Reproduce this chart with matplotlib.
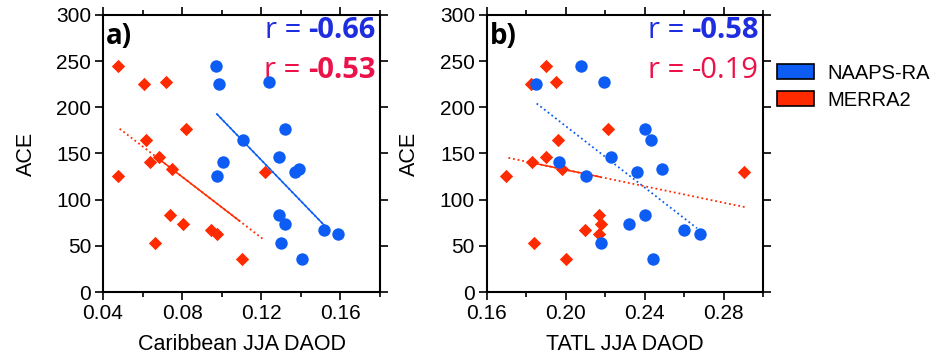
#!/usr/bin/env python3
"""ACE vs JJA dust AOD scatter, two panels"""

import matplotlib.pyplot as plt
import numpy as np
from matplotlib.patches import Patch
from matplotlib.ticker import MultipleLocator

# ACE values per season (shared by both products)
ace = [245, 225, 227, 176, 165, 146, 141, 133, 130, 126, 83, 74, 67, 63, 53, 36]

# Caribbean JJA DAOD
carib_naaps = [0.097, 0.0988, 0.1238, 0.1319, 0.1108, 0.1289, 0.1008, 0.1392,
               0.137, 0.0978, 0.1289, 0.1318, 0.1519, 0.159, 0.1299, 0.1407]
carib_merra = [0.0476, 0.0606, 0.0718, 0.0819, 0.0616, 0.0681, 0.0637, 0.0748,
               0.122, 0.0476, 0.0736, 0.0804, 0.0944, 0.0978, 0.0665, 0.110]

# TATL JJA DAOD
tatl_naaps = [0.2078, 0.1848, 0.2192, 0.240, 0.243, 0.2229, 0.1968, 0.249,
              0.236, 0.2102, 0.240, 0.232, 0.260, 0.268, 0.2178, 0.2442]
tatl_merra = [0.190, 0.1823, 0.195, 0.2212, 0.1962, 0.1899, 0.183, 0.198,
              0.2901, 0.1698, 0.217, 0.2178, 0.210, 0.2168, 0.1838, 0.200]

r_text = {"a": ("-0.66", "-0.53"), "b": ("-0.58", "-0.19")}
r_bold = {"a": (True, True), "b": (True, False)}

# extent of the fit lines: (full dotted range, solid range)
fit_span = {
    "a_naaps": ((0.0975, 0.152), (0.0975, 0.152)),
    "a_merra": ((0.0484, 0.121), (0.067, 0.109)),
    "b_naaps": ((0.1853, 0.2665), None),
    "b_merra": ((0.171, 0.291), (0.183, 0.2175)),
}

BLUE = "#0d5df5"
RED = "#ff2a00"
TXT_BLUE = "#1f2de0"
TXT_RED = "#eb1149"


def fit_line(ax, x, y, span, color):
    k, b = np.polyfit(x, y, 1)
    full, solid = span
    xs = np.linspace(full[0], full[1], 50)
    ax.plot(xs, k * xs + b, ls=(0, (1, 1.6)), lw=1.3, color=color, zorder=2)
    if solid is not None:
        xs = np.linspace(solid[0], solid[1], 50)
        ax.plot(xs, k * xs + b, ls="-", lw=1.1, color=color, zorder=2)


def panel(ax, key, xn, xm, xlim, xticks, xlabel):
    ax.scatter(xm, ace, marker="D", s=46, color=RED, zorder=3, lw=0)
    ax.scatter(xn, ace, marker="o", s=80, color=BLUE, zorder=4, lw=0)
    fit_line(ax, xn, ace, fit_span[key + "_naaps"], BLUE)
    fit_line(ax, xm, ace, fit_span[key + "_merra"], RED)

    ax.set_xlim(*xlim)
    ax.set_ylim(0, 300)
    ax.set_xticks(xticks)
    ax.set_xticklabels([f"{t:.2f}" for t in xticks])
    ax.xaxis.set_minor_locator(MultipleLocator(0.02))
    ax.yaxis.set_major_locator(MultipleLocator(50))
    ax.tick_params(which="both", direction="out", top=True, right=True,
                   labelsize=15, width=1.2, pad=3)
    ax.tick_params(which="major", length=5.5)
    ax.tick_params(which="minor", length=3.5)
    for s in ax.spines.values():
        s.set_linewidth(1.5)
    ax.set_xlabel(xlabel, fontsize=15.5, labelpad=8)
    ax.set_ylabel("ACE", fontsize=15.5, labelpad=14)

    ax.text(0.01, 0.975, key + ")", transform=ax.transAxes, ha="left",
            va="top", fontsize=20, fontweight="bold", family="Open Sans")
    for i, (val, col) in enumerate(zip(r_text[key], (TXT_BLUE, TXT_RED))):
        wt = "bold" if r_bold[key][i] else "normal"
        y = 0.995 - i * 0.145
        t = ax.text(0.985, y, val, transform=ax.transAxes, ha="right",
                    va="top", fontsize=21, color=col, fontweight=wt,
                    family="Open Sans")
        ax.annotate("r = ", xycoords=t, xy=(0, 0), ha="right", va="bottom",
                    fontsize=21, color=col, family="Open Sans")


def main():
    plt.rcParams["font.family"] = ["Liberation Sans", "DejaVu Sans"]
    fig = plt.figure(figsize=(9.41, 3.54), dpi=100)
    ax1 = fig.add_axes([0.1095, 0.175, 0.2943, 0.783])
    ax2 = fig.add_axes([0.5172, 0.175, 0.2938, 0.783])
    panel(ax1, "a", carib_naaps, carib_merra, (0.04, 0.18),
          [0.04, 0.08, 0.12, 0.16], "Caribbean JJA DAOD")
    panel(ax2, "b", tatl_naaps, tatl_merra, (0.16, 0.30),
          [0.16, 0.20, 0.24, 0.28], "TATL JJA DAOD")

    handles = [Patch(facecolor=BLUE, edgecolor="black", lw=1.2),
               Patch(facecolor=RED, edgecolor="black", lw=1.2)]
    fig.legend(handles, ["NAAPS-RA", "MERRA2"], loc="upper left",
               bbox_to_anchor=(0.826, 0.82), frameon=False, fontsize=14.5,
               handlelength=1.8, handleheight=0.75, labelspacing=0.4,
               handletextpad=0.7, borderaxespad=0, borderpad=0)

    fig.savefig("out.png", dpi=100)


if __name__ == "__main__":
    main()
